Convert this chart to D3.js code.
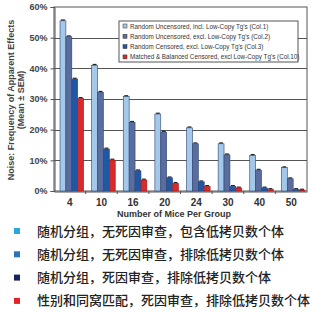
<!DOCTYPE html>
<html>
<head>
<meta charset="utf-8">
<script src="https://cdn.jsdelivr.net/npm/d3@7"></script>
<style>
  body { margin: 0; background: #fff; }
  svg { display: block; font-family: "Liberation Sans", Arial, sans-serif; }
</style>
</head>
<body>
<div id="chart"></div>
<script>
// group sizes on the x axis
var groups = ["4", "10", "16", "20", "24", "30", "40", "50"];

// one array per series, percent
var col1 = [55.5, 41.0, 30.8, 25.1, 20.6, 15.4, 11.6, 7.6];
var col2 = [50.3, 32.2, 22.4, 19.2, 15.4, 11.8, 6.8, 4.0];
var col3 = [36.5, 13.7, 6.6, 4.3, 3.0, 1.5, 1.0, 0.5];
var col10 = [30.2, 10.1, 3.6, 2.5, 1.5, 1.0, 0.5, 0.3];

var seriesNames = [
    "Random Uncensored, incl. Low-Copy Tg's (Col.1)",
    "Random Uncensored, excl. Low-Copy Tg's (Col.2)",
    "Random Censored, excl. Low-Copy Tg's (Col.3)",
    "Matched & Balanced Censored, excl Low-Copy Tg's (Col.10)"
];
var yTicks = [0, 10, 20, 30, 40, 50, 60];

var cnLabels = [
    "随机分组，无死因审查，包含低拷贝数个体",
    "随机分组，无死因审查，排除低拷贝数个体",
    "随机分组，死因审查，排除低拷贝数个体",
    "性别和同窝匹配，死因审查，排除低拷贝数个体"
];

var barColors = ["#a3c8ea", "#5a6d9f", "#2158a6", "#d8292b"];
var cnColors = ["#2aa8de", "#2b74b8", "#17245e", "#e2242a"];

var allSeries = [col1, col2, col3, col10];

var width = 313, height = 312;
var margin = {top: 7, left: 54, right: 6};
var plotBottom = 191;

var svg = d3.select("#chart").append("svg")
    .attr("width", width)
    .attr("height", height);

var x = d3.scaleBand().domain(groups).range([margin.left, width - margin.right]);
var inner = d3.scaleBand().domain(d3.range(4)).range([6, x.bandwidth() - 2]).padding(0);
var y = d3.scaleLinear().domain([0, 60]).range([plotBottom, margin.top]);

// plot frame and gridlines
svg.append("rect")
    .attr("x", margin.left).attr("y", margin.top)
    .attr("width", width - margin.right - margin.left)
    .attr("height", plotBottom - margin.top)
    .attr("fill", "none").attr("stroke", "#555").attr("stroke-width", 1);

svg.append("g").selectAll("line")
    .data(yTicks.slice(1, -1))
    .enter().append("line")
    .attr("x1", margin.left).attr("x2", width - margin.right)
    .attr("y1", function(d) { return Math.round(y(d)) + 0.5; })
    .attr("y2", function(d) { return Math.round(y(d)) + 0.5; })
    .attr("stroke", "#555").attr("stroke-width", 1);

// y axis
var yAxis = svg.append("g")
    .attr("transform", "translate(" + (margin.left + 0.5) + ",0)")
    .call(d3.axisLeft(y).tickValues(yTicks).tickSize(4).tickPadding(3)
        .tickFormat(function(d) { return d + "%"; }));
yAxis.select(".domain").attr("stroke", "#555");
yAxis.selectAll(".tick line").attr("stroke", "#555");
yAxis.selectAll("text")
    .attr("fill", "#444").style("font-size", "9px").style("font-weight", "bold");

// x axis
var xAxis = svg.append("g")
    .attr("transform", "translate(0," + (plotBottom + 0.5) + ")")
    .call(d3.axisBottom(x).tickSize(0).tickPadding(7));
xAxis.select(".domain").attr("stroke", "#555");
xAxis.selectAll("text")
    .attr("fill", "#333").style("font-size", "10px").style("font-weight", "bold");

// small ticks between groups
svg.append("g").selectAll("line")
    .data(groups.slice(1))
    .enter().append("line")
    .attr("x1", function(d) { return x(d); })
    .attr("x2", function(d) { return x(d); })
    .attr("y1", plotBottom).attr("y2", plotBottom + 3)
    .attr("stroke", "#555");

// bars
allSeries.forEach(function(vals, s) {
    var g = svg.append("g");
    g.selectAll("rect")
        .data(vals)
        .enter().append("rect")
        .attr("x", function(d, i) { return x(groups[i]) + inner(s); })
        .attr("y", function(d) { return y(d); })
        .attr("width", inner.bandwidth())
        .attr("height", function(d) { return plotBottom - y(d); })
        .attr("fill", barColors[s])
        .attr("stroke", s == 3 ? "#9a2020" : "#2f4470")
        .attr("stroke-width", 0.6);
    // error caps
    g.selectAll("line")
        .data(vals)
        .enter().append("line")
        .attr("x1", function(d, i) { return x(groups[i]) + inner(s) + 1; })
        .attr("x2", function(d, i) { return x(groups[i]) + inner(s) + inner.bandwidth() - 1; })
        .attr("y1", function(d) { return y(d) - 0.8; })
        .attr("y2", function(d) { return y(d) - 0.8; })
        .attr("stroke", "#222").attr("stroke-width", 1.2);
});

// y label
var yl = svg.append("text")
    .attr("transform", "translate(14,100) rotate(-90)")
    .attr("text-anchor", "middle")
    .attr("fill", "#444")
    .style("font-size", "9px").style("font-weight", "bold");
yl.append("tspan").attr("x", 0).attr("y", 0).text("Noise: Frequency of Apparent Effects");
yl.append("tspan").attr("x", 0).attr("y", 10).text("(Mean \u00b1 SEM)");

svg.append("text")
    .attr("x", 174).attr("y", 217)
    .attr("text-anchor", "middle")
    .attr("fill", "#333")
    .style("font-size", "9px").style("font-weight", "bold")
    .text("Number of Mice Per Group");

// inner legend
var lg = svg.append("g").attr("transform", "translate(119,21)");
lg.append("rect")
    .attr("width", 179).attr("height", 41)
    .attr("fill", "#fff").attr("stroke", "#555").attr("stroke-width", 1);
seriesNames.forEach(function(name, i) {
    lg.append("rect")
        .attr("x", 4).attr("y", 3 + i * 10.3)
        .attr("width", 4).attr("height", 4)
        .attr("fill", barColors[i]).attr("stroke", "#333").attr("stroke-width", 0.5);
    lg.append("text")
        .attr("x", 11).attr("y", 7.5 + i * 10.3)
        .attr("fill", "#333")
        .style("font-size", "6.3px")
        .text(name);
});

// chinese legend
cnLabels.forEach(function(lab, i) {
    var cy = 231 + i * 23.3;
    svg.append("rect")
        .attr("x", 14).attr("y", cy - 3)
        .attr("width", 6).attr("height", 6)
        .attr("fill", cnColors[i]);
    svg.append("text")
        .attr("x", 37).attr("y", cy + 4.5)
        .attr("fill", "#222")
        .style("font-family", "'Noto Sans CJK SC', sans-serif")
        .style("font-size", "13px")
        .style("font-weight", "500")
        .text(lab);
});
</script>
</body>
</html>
